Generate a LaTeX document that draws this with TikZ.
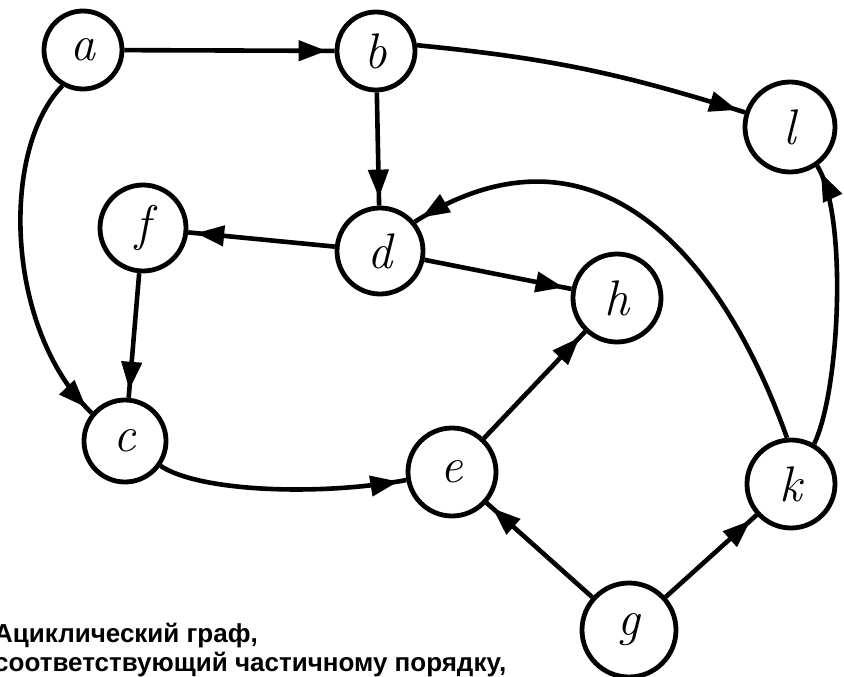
\documentclass[tikz,border=0pt]{standalone}
\usepackage{fontspec}
\newfontfamily\capfont{Liberation Sans}
\usetikzlibrary{arrows.meta,decorations.markings}
\begin{document}
\begin{tikzpicture}[x=1pt,y=-1pt,
  vertex/.style={circle,draw,line width=4.8pt,minimum size=86pt,inner sep=0pt,
    font=\fontsize{50}{50}\selectfont\itshape},
  edge/.style={line width=4.6pt,
    decoration={markings,mark=at position -8pt with {\arrow{Triangle[length=28pt,width=20pt]}}},
    postaction={decorate}},
  caption/.style={font=\capfont\bfseries\fontsize{26}{30}\selectfont,anchor=base west,inner sep=0pt}]
\clip (0,0) rectangle (844,677);
\node[vertex,minimum size=78pt] (a) at (83,50) {a};
\node[vertex,minimum size=78pt] (b) at (376,51) {b};
\node[vertex,minimum size=90pt] (l) at (790,127) {l};
\node[vertex] (f) at (143,228) {f};
\node[vertex] (d) at (380,251) {d};
\node[vertex,minimum size=88pt] (h) at (617,298) {h};
\node[vertex,minimum size=82pt] (c) at (125,441) {c};
\node[vertex,minimum size=88pt] (e) at (452,472) {e};
\node[vertex,minimum size=88pt] (k) at (791,484) {k};
\node[vertex,minimum size=94pt] (g) at (629,630) {g};

\draw[edge] (a) -- (b);
\draw[edge] (a.240) .. controls (0,150) and (5,330) .. (c.140);
\draw[edge] (b) -- (d);
\draw[edge] (b.8) to[bend left=6] (l.162);
\draw[edge] (d) -- (f);
\draw[edge] (d) -- (h);
\draw[edge] (f) -- (c);
\draw[edge] (c.-35) .. controls (200,492) and (320,496) .. (e.190);
\draw[edge] (e) -- (h);
\draw[edge] (g) -- (e);
\draw[edge] (g) -- (k);
\draw[edge] (k.95) .. controls (720,250) and (592,109) .. (d.40);
\draw[edge] (k.60) .. controls (840,390) and (848,215) .. (l.-55);

\node[caption] (t1) at (-6,642) {Ациклический граф,};
\node[caption] (t2) at (-6,671) {соответствующий частичному порядку,};
\end{tikzpicture}
\end{document}
